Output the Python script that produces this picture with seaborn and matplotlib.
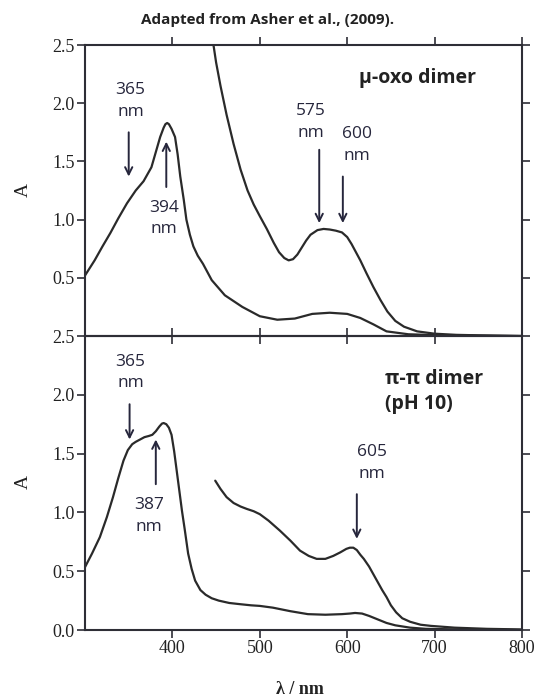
import matplotlib
matplotlib.use("Agg")
import matplotlib.pyplot as plt
import seaborn as sns
import pandas as pd

# ---------------- data ----------------
# top panel: mu-oxo dimer
top_soret_nm = [300, 311, 320, 329, 338, 348, 358, 367, 376, 381, 386, 390, 392, 394, 396, 399, 403, 406, 409, 413, 416,
                420, 424, 429, 435, 445, 460, 480, 500, 520, 540, 560, 580, 600, 615, 630, 645, 670, 700, 750, 800]
top_soret_A = [0.52, 0.65, 0.77, 0.885, 1.01, 1.14, 1.25, 1.33, 1.45, 1.58, 1.71, 1.79, 1.82, 1.83, 1.82, 1.78, 1.71, 1.56,
               1.37, 1.17, 1.0, 0.87, 0.77, 0.69, 0.62, 0.48, 0.35, 0.25, 0.17, 0.14, 0.15, 0.19, 0.2, 0.19, 0.155, 0.1,
               0.04, 0.015, 0.008, 0.003, 0.0]

top_q_nm = [446, 450, 455, 462, 470, 478, 486, 493, 500, 508, 516, 522, 528, 533, 538, 543, 548, 553, 558, 566, 573, 580,
            587, 594, 600, 605, 610, 615, 622, 630, 638, 646, 655, 665, 680, 700, 725, 750, 800]
top_q_A = [2.55, 2.35, 2.15, 1.9, 1.65, 1.43, 1.25, 1.13, 1.03, 0.92, 0.8, 0.72, 0.67, 0.65, 0.66, 0.7, 0.76, 0.82, 0.87,
           0.91, 0.92, 0.915, 0.905, 0.89, 0.85, 0.79, 0.72, 0.65, 0.54, 0.42, 0.31, 0.21, 0.13, 0.08, 0.04, 0.02, 0.01,
           0.006, 0.0]

# bottom panel: pi-pi dimer (pH 10)
bot_soret_nm = [300, 308, 317, 325, 332, 338, 344, 349, 354, 358, 363, 368, 373, 377, 381, 385, 388, 390, 393, 396, 399,
                402, 405, 408, 411, 414, 418, 422, 426, 432, 438, 445, 453, 465, 477, 490, 500, 515, 535, 555, 575, 594,
                603, 609, 617, 625, 635, 645, 655, 672, 690, 720, 760, 800]
bot_soret_A = [0.535, 0.65, 0.79, 0.96, 1.13, 1.29, 1.44, 1.53, 1.58, 1.6, 1.62, 1.64, 1.65, 1.66, 1.69, 1.73, 1.755, 1.76,
               1.75, 1.72, 1.66, 1.52, 1.35, 1.18, 1.01, 0.86, 0.65, 0.52, 0.42, 0.34, 0.3, 0.27, 0.25, 0.23, 0.22, 0.21,
               0.205, 0.19, 0.16, 0.135, 0.13, 0.135, 0.14, 0.145, 0.14, 0.12, 0.09, 0.06, 0.04, 0.02, 0.01, 0.006,
               0.003, 0.0]

bot_q_nm = [449, 455, 462, 470, 478, 485, 493, 500, 510, 523, 535, 546, 556, 565, 575, 584, 592, 599, 603, 607, 611, 615,
            619, 625, 634, 640, 645, 650, 656, 663, 672, 684, 696, 723, 760, 800]
bot_q_A = [1.27, 1.2, 1.13, 1.08, 1.05, 1.03, 1.01, 0.985, 0.93, 0.845, 0.76, 0.675, 0.63, 0.605, 0.605, 0.63, 0.66, 0.69,
           0.70, 0.70, 0.68, 0.64, 0.605, 0.54, 0.42, 0.34, 0.28, 0.21, 0.15, 0.1, 0.07, 0.045, 0.035, 0.02, 0.01, 0.005]

# annotations: (label, text x, text y, arrow tail x, tail y, tip x, tip y)
top_notes = [("365\nnm", 352, 2.02, 350, 1.75, 350, 1.37),
             ("394\nnm", 390, 1.01, 393, 1.28, 393, 1.67),
             ("575\nnm", 558, 1.84, 568, 1.60, 568, 0.97),
             ("600\nnm", 611, 1.64, 595, 1.37, 595, 0.97)]
bot_notes = [("365\nnm", 352, 2.19, 351, 1.92, 351, 1.62),
             ("387\nnm", 373, 0.97, 381, 1.24, 381, 1.62),
             ("605\nnm", 628, 1.42, 611, 1.155, 611, 0.775)]

top_label = "µ-oxo dimer"
bot_label = "π-π dimer\n(pH 10)"
title = "Adapted from Asher et al., (2009)."

# ---------------- figure ----------------
sns.set_style("ticks")
plt.rcParams['font.family'] = ['Liberation Serif', 'DejaVu Serif']

fig = plt.figure(figsize=(5.35, 6.98), dpi=100)
ax1 = fig.add_axes([0.1589, 0.5186, 0.8168, 0.4169])
ax2 = fig.add_axes([0.1589, 0.0974, 0.8168, 0.4212])

line_col = "#2a2a2a"
ann_col = "#26263c"
spine_col = "#2e2e36"

def draw(ax, series):
    for nm, A in series:
        df = pd.DataFrame({"nm": nm, "A": A})
        sns.lineplot(data=df, x="nm", y="A", ax=ax, color=line_col, lw=1.6,
                     estimator=None, sort=False, legend=False)

draw(ax1, [(top_soret_nm, top_soret_A), (top_q_nm, top_q_A)])
draw(ax2, [(bot_soret_nm, bot_soret_A), (bot_q_nm, bot_q_A)])

for ax in (ax1, ax2):
    ax.set_xlim(300, 800)
    ax.set_ylim(0, 2.5)
    ax.set_xlabel("")
    ax.set_ylabel("")
    for s in ax.spines.values():
        s.set_visible(True)
        s.set_linewidth(1.5)
        s.set_color(spine_col)
    ax.set_xticks([400, 500, 600, 700, 800])
    ax.tick_params(direction="out", length=5.5, width=1.2, color=spine_col,
                   top=True, right=True, labelsize=13, labelcolor="#222222", pad=2)
    ax.patch.set_alpha(0)

ax1.set_yticks([0.5, 1.0, 1.5, 2.0, 2.5])
ax1.set_yticklabels(["0.5", "1.0", "1.5", "2.0", "2.5"])
ax1.tick_params(labelbottom=False)
ax2.set_yticks([0.0, 0.5, 1.0, 1.5, 2.0, 2.5])
ax2.set_yticklabels(["0.0", "0.5", "1.0", "1.5", "2.0", "2.5"])
ax2.set_xticklabels(["400", "500", "600", "700", "800"])

def notes(ax, items):
    for lab, tx, ty, ax0, ay0, ax1_, ay1 in items:
        ax.text(tx, ty, lab, ha="center", va="center", fontsize=12.5, color=ann_col,
                family=["Open Sans", "DejaVu Sans"], linespacing=1.45)
        ax.annotate("", xy=(ax1_, ay1), xytext=(ax0, ay0),
                    arrowprops=dict(arrowstyle="->", lw=1.4, color=ann_col, mutation_scale=13,
                                    shrinkA=0, shrinkB=0))

notes(ax1, top_notes)
notes(ax2, bot_notes)

ax1.text(613, 2.22, top_label, ha="left", va="center", fontsize=14, fontweight="bold",
         color="#222222", family=["Open Sans", "DejaVu Sans"])
ax2.text(643, 2.03, bot_label, ha="left", va="center", fontsize=14, fontweight="bold",
         color="#222222", family=["Open Sans", "DejaVu Sans"], linespacing=1.3)

fig.text(0.5, 1 - 20 / 698, title, ha="center", va="center", fontsize=11, fontweight="bold",
         color="#222222", family=["Open Sans", "DejaVu Sans"])

fig.text(23 / 535, 1 - 190 / 698, "A", rotation=90, ha="center", va="center", fontsize=14, color="#222222")
fig.text(23 / 535, 1 - 482 / 698, "A", rotation=90, ha="center", va="center", fontsize=14, color="#222222")
fig.text(300 / 535, 1 - 689 / 698, "λ / nm", ha="center", va="center", fontsize=13, fontweight="bold",
         color="#222222")

fig.savefig("out.png", dpi=100, facecolor="white")
